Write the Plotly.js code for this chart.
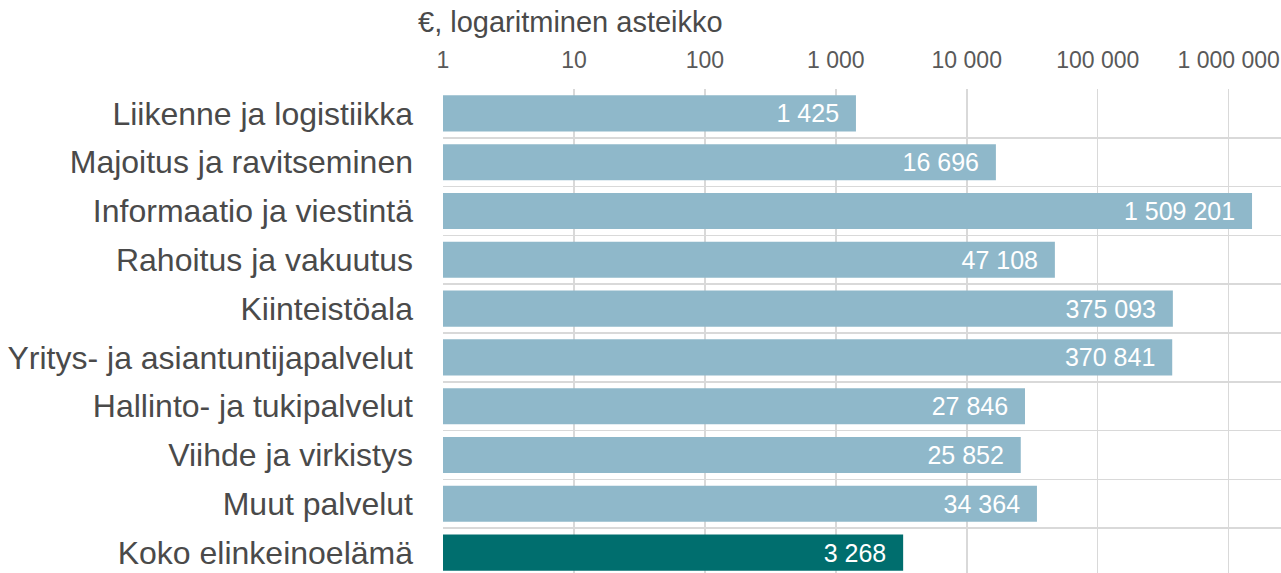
<!DOCTYPE html>
<html>
<head>
<meta charset="utf-8">
<script src="https://cdn.plot.ly/plotly-3.0.1.min.js"></script>
<style>
html,body{margin:0;padding:0;overflow:hidden;background:#fff;}
#chart{width:1281px;height:578px;}
</style>
</head>
<body>
<div id="chart"></div>
<script>
const categories = [
  "Liikenne ja logistiikka",
  "Majoitus ja ravitseminen",
  "Informaatio ja viestintä",
  "Rahoitus ja vakuutus",
  "Kiinteistöala",
  "Yritys- ja asiantuntijapalvelut",
  "Hallinto- ja tukipalvelut",
  "Viihde ja virkistys",
  "Muut palvelut",
  "Koko elinkeinoelämä"
];
const values = [1425, 16696, 1509201, 47108, 375093, 370841, 27846, 25852, 34364, 3268];
const tickValues = [1, 10, 100, 1000, 10000, 100000, 1000000];
const axisTitle = "€, logaritminen asteikko";

const colors = categories.map((c, i) => i === categories.length - 1 ? "#006E6E" : "#8FB8CA");

const trace = {
  type: "bar",
  orientation: "h",
  x: values,
  y: categories,
  marker: {color: colors},
  texttemplate: "%{x:,}\u00a0\u00a0",
  textposition: "inside",
  insidetextanchor: "end",
  textangle: 0,
  insidetextfont: {color: "#ffffff", size: 25, family: "Liberation Sans, Arial, sans-serif"},
  hoverinfo: "none",
  cliponaxis: false
};

const layout = {
  width: 1281,
  height: 578,
  margin: {l: 443, r: 0, t: 89, b: 1},
  paper_bgcolor: "#ffffff",
  plot_bgcolor: "#ffffff",
  separators: ", ",
  bargap: 0.26,
  showlegend: false,
  font: {family: "Liberation Sans, Arial, sans-serif", color: "#595959"},
  xaxis: {
    type: "log",
    side: "top",
    range: [0, 6.4],
    tickvals: tickValues,
    tickformat: ",",
    tickfont: {size: 23, color: "#595959"},
    ticklabelstandoff: 15,
    showgrid: true,
    gridcolor: "#D9D9D9",
    gridwidth: 1.5,
    zeroline: false,
    showline: false,
    ticks: "",
    fixedrange: true
  },
  yaxis: {
    type: "category",
    autorange: "reversed",
    tickson: "boundaries",
    showgrid: true,
    gridcolor: "#D9D9D9",
    gridwidth: 1.5,
    ticks: "",
    ticklabelstandoff: 29,
    tickfont: {size: 32, color: "#4A4A4A"},
    showline: false,
    zeroline: false,
    fixedrange: true
  },
  annotations: [{
    text: axisTitle,
    xref: "paper", yref: "paper",
    x: -0.032, y: 1 + 67/488,
    xanchor: "left", yanchor: "middle",
    showarrow: false,
    font: {size: 29, color: "#4A4A4A"}
  }]
};

Plotly.newPlot("chart", [trace], layout, {displayModeBar: false, staticPlot: true});
</script>
</body>
</html>
